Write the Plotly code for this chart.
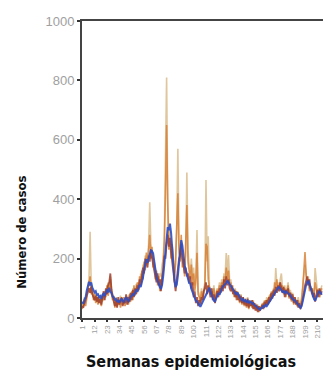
import plotly.graph_objects as go

# Weekly case counts per series (epidemiological weeks 1..214)
casos_beige = [
    40, 60, 70, 55, 80, 100, 130, 290, 110, 90,
    75, 60, 85, 55, 80, 70, 60, 75, 55, 70,
    90, 80, 100, 120, 90, 140, 100, 75, 60, 50,
    70, 45, 65, 50, 75, 55, 65, 50, 70, 55,
    60, 75, 50, 85, 65, 100, 80, 90, 115, 100,
    120, 100, 150, 130, 180, 160, 210, 200, 190, 250,
    390, 250, 220, 200, 180, 160, 150, 140, 120, 150,
    140, 180, 200, 280, 500, 810, 400, 260, 300, 240,
    250, 200, 150, 180, 300, 570, 250, 210, 230, 200,
    190, 170, 210, 490, 230, 180, 150, 200, 130, 170,
    110, 140, 296, 90, 80, 60, 100, 70, 90, 120,
    465, 190, 275, 110, 90, 100, 80, 110, 70, 85,
    100, 90, 120, 100, 130, 110, 150, 140, 219, 140,
    212, 120, 130, 100, 110, 80, 100, 70, 90, 75,
    60, 80, 55, 70, 50, 65, 45, 70, 40, 60,
    50, 40, 60, 35, 50, 30, 45, 25, 40, 35,
    50, 40, 60, 45, 70, 50, 75, 60, 90, 70,
    100, 80, 168, 110, 120, 100, 130, 150, 100, 90,
    110, 80, 100, 120, 75, 95, 65, 85, 55, 70,
    60, 50, 70, 45, 50, 70, 110, 140, 180, 140,
    120, 140, 100, 110, 90, 100, 80, 168, 110, 90,
    100, 80, 95, 110,
]

casos_naranja = [
    30, 45, 60, 40, 70, 90, 110, 140, 80, 95,
    60, 80, 50, 70, 45, 65, 55, 40, 75, 60,
    80, 70, 110, 75, 95, 130, 80, 60, 75, 35,
    55, 40, 50, 60, 35, 55, 45, 70, 40, 60,
    70, 45, 80, 55, 90, 60, 110, 75, 95, 120,
    90, 140, 120, 160, 130, 190, 160, 220, 180, 240,
    280, 200, 240, 170, 190, 130, 160, 110, 140, 90,
    130, 110, 170, 260, 420, 650, 380, 230, 260, 200,
    240, 160, 120, 200, 330, 420, 220, 190, 280, 170,
    200, 140, 260, 380, 190, 160, 130, 180, 110, 150,
    90, 120, 220, 80, 70, 50, 90, 60, 80, 110,
    250, 240, 130, 100, 80, 90, 70, 100, 60, 75,
    95, 80, 110, 90, 120, 100, 140, 120, 170, 130,
    160, 110, 120, 90, 100, 70, 95, 60, 80, 70,
    50, 70, 45, 65, 40, 55, 35, 60, 30, 50,
    45, 35, 55, 30, 45, 25, 40, 20, 35, 30,
    40, 50, 35, 60, 45, 65, 50, 80, 60, 90,
    75, 120, 100, 130, 95, 110, 120, 90, 110, 80,
    100, 70, 90, 110, 65, 85, 55, 75, 45, 60,
    50, 40, 60, 35, 45, 60, 100, 160, 222, 150,
    110, 130, 90, 105, 80, 95, 70, 120, 100, 80,
    95, 70, 85, 100,
]

casos_rojo = [
    40, 35, 50, 65, 80, 95, 100, 85, 105, 80,
    70, 60, 75, 55, 70, 50, 65, 45, 70, 90,
    60, 100, 80, 110, 120, 150, 95, 70, 55, 40,
    60, 35, 70, 45, 55, 70, 40, 60, 50, 80,
    45, 70, 55, 85, 60, 95, 70, 100, 80, 110,
    95, 130, 110, 140, 170, 150, 200, 185, 170, 210,
    190, 230, 200, 180, 160, 140, 120, 150, 110, 130,
    90, 140, 160, 210, 200, 250, 280, 240, 270, 220,
    190, 140, 110, 90, 130, 170, 200, 210, 250, 200,
    180, 150, 170, 140, 150, 120, 140, 100, 120, 70,
    90, 50, 70, 40, 60, 45, 70, 60, 90, 100,
    120, 80, 110, 90, 70, 100, 60, 80, 50, 70,
    90, 70, 100, 85, 110, 90, 130, 100, 140, 110,
    130, 100, 90, 110, 80, 95, 70, 90, 60, 80,
    55, 75, 50, 70, 45, 60, 40, 65, 35, 55,
    40, 60, 30, 50, 25, 45, 20, 40, 25, 35,
    45, 30, 55, 40, 60, 45, 70, 55, 85, 65,
    95, 75, 105, 85, 110, 90, 120, 100, 85, 105,
    70, 95, 80, 100, 70, 85, 60, 80, 50, 70,
    45, 60, 35, 50, 30, 45, 60, 85, 110, 130,
    140, 110, 130, 95, 100, 70, 85, 55, 75, 95,
    70, 100, 80, 90,
]

casos_azul = [
    55, 48, 62, 70, 92, 112, 122, 110, 120, 102,
    96, 86, 90, 78, 80, 70, 74, 64, 78, 82,
    74, 88, 96, 86, 102, 88, 84, 72, 70, 62,
    64, 54, 60, 52, 62, 66, 58, 54, 64, 70,
    62, 56, 62, 72, 74, 82, 76, 86, 96, 88,
    102, 112, 104, 118, 136, 162, 178, 198, 186, 206,
    214, 228, 226, 218, 188, 162, 138, 126, 112, 104,
    98, 112, 142, 182, 228, 276, 306, 296, 318, 286,
    228, 168, 128, 104, 112, 142, 188, 232, 262, 244,
    208, 178, 162, 142, 132, 118, 116, 98, 86, 74,
    66, 58, 56, 48, 44, 38, 46, 54, 66, 74,
    82, 88, 96, 102, 88, 78, 72, 58, 56, 64,
    76, 84, 78, 92, 98, 106, 110, 116, 118, 126,
    120, 112, 104, 100, 92, 88, 84, 78, 86, 74,
    70, 64, 60, 64, 56, 60, 54, 58, 50, 56,
    54, 48, 50, 44, 42, 38, 34, 30, 28, 34,
    34, 40, 38, 44, 40, 46, 52, 60, 66, 72,
    80, 84, 92, 94, 102, 104, 98, 96, 88, 90,
    84, 90, 86, 84, 78, 76, 68, 66, 60, 60,
    54, 50, 44, 40, 34, 40, 56, 76, 96, 112,
    120, 126, 114, 100, 86, 72, 64, 58, 70, 80,
    86, 90, 84, 78,
]

semanas_ticks = list(range(1, 211, 11))
y_ticks = [0, 200, 400, 600, 800, 1000]

series = [
    (casos_beige, "rgba(216,184,132,0.8)", 1.6),
    (casos_naranja, "rgba(214,124,48,0.8)", 1.6),
    (casos_rojo, "rgba(158,62,44,0.85)", 1.8),
    (casos_azul, "rgba(44,78,196,0.9)", 2.0),
]

fig = go.Figure()
for valores, color, ancho in series:
    fig.add_trace(go.Scatter(
        x=list(range(1, len(valores) + 1)),
        y=valores,
        mode="lines",
        line=dict(color=color, width=ancho),
        showlegend=False,
        hoverinfo="skip",
    ))

fig.update_layout(
    width=323,
    height=371,
    margin=dict(l=82, r=0, t=21, b=53),
    paper_bgcolor="white",
    plot_bgcolor="white",
    font=dict(family="Liberation Sans, Arial, sans-serif"),
    xaxis=dict(
        range=[0.8, 215],
        tickvals=semanas_ticks,
        ticktext=[str(v) for v in semanas_ticks],
        tickangle=-90,
        tickfont=dict(size=8, color="#a0a0a0"),
        ticks="outside",
        ticklen=2,
        tickwidth=2,
        tickcolor="#333333",
        showline=True,
        linecolor="#444444",
        linewidth=2,
        mirror=True,
        showgrid=False,
        zeroline=False,
    ),
    yaxis=dict(
        range=[0, 1000],
        tickvals=y_ticks,
        tickfont=dict(size=13, color="#a0a0a0"),
        ticks="outside",
        ticklen=3,
        tickwidth=2,
        tickcolor="#333333",
        showline=True,
        linecolor="#444444",
        linewidth=2,
        showgrid=False,
        zeroline=False,
    ),
    annotations=[
        dict(
            text="<b>Semanas epidemiológicas</b>",
            xref="paper", yref="paper",
            x=0.452, y=-0.148,
            xanchor="center", yanchor="middle",
            showarrow=False,
            font=dict(family="DejaVu Sans Condensed, DejaVu Sans", size=16, color="#111111"),
        ),
        dict(
            text="<b>Número de casos</b>",
            xref="paper", yref="paper",
            x=-0.249, y=0.29,
            xanchor="center", yanchor="middle",
            textangle=-90,
            showarrow=False,
            font=dict(family="DejaVu Sans Condensed, DejaVu Sans", size=13, color="#111111"),
        ),
    ],
)

fig.write_html("out.html")
